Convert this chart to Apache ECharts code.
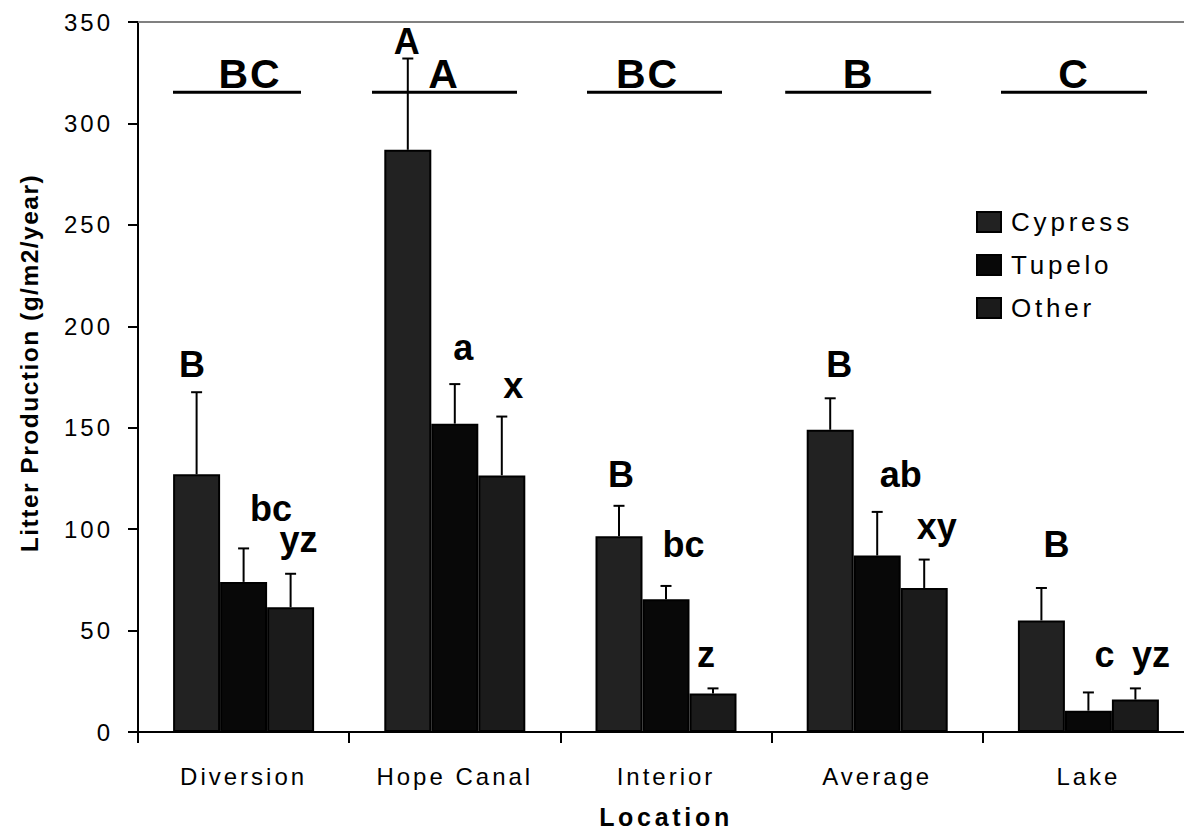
<!DOCTYPE html>
<html>
<head>
<meta charset="utf-8">
<script src="https://cdn.jsdelivr.net/npm/echarts@6/dist/echarts.min.js"></script>
<style>
  html, body { margin: 0; padding: 0; background: #fff; }
  #chart { width: 1184px; height: 831px; }
  /* wide tracking used by the axis, legend and title text */
  #chart text[style*="24px"] { letter-spacing: 3px; }
  #chart text[style*="26px"] { letter-spacing: 3.8px; }
  #chart text[style*="25px"] { letter-spacing: 3.7px; }
  #chart text[style*="24.5px"] { letter-spacing: 1.5px; }
  #chart text[style*="41px"] { letter-spacing: 2px; }
</style>
</head>
<body>
<div id="chart"></div>
<script>
// ---- data -------------------------------------------------------------
const categories = ['Diversion', 'Hope Canal', 'Interior', 'Average', 'Lake'];
const speciesNames = ['Cypress', 'Tupelo', 'Other'];

const cypress = [127, 287, 96.5, 149, 55];
const tupelo  = [74, 152, 65.5, 87, 10.5];
const other   = [61.5, 126.5, 19, 71, 16];

// standard errors (upper whisker length)
const cypressSE = [40.5, 45, 15, 15.5, 16];
const tupeloSE  = [16.5, 19.5, 6.5, 21.5, 9];
const otherSE   = [16.5, 29, 2.5, 14, 5.5];

// significance letters
const cypressLetters  = ['B', 'A', 'B', 'B', 'B'];
const tupeloLetters   = ['bc', 'a', 'bc', 'ab', 'c'];
const otherLetters    = ['yz', 'x', 'z', 'xy', 'yz'];
const locationLetters = ['BC', 'A', 'BC', 'B', 'C'];

const yMin = 0, yMax = 350, yStep = 50;
const locationLevel = 315.4;   // value at which the location brackets sit

// ---- layout -----------------------------------------------------------
const BAR_W = 47;
const FONT = '"Liberation Sans", Arial, sans-serif';
const colors = ['#222222', '#080808', '#1b1b1b'];
// letter nudges [dx, baseline offset] relative to the whisker top
const cypressLabelPos = [[-4.5, -15], [-1, -4], [2, -19], [9, -21], [15, -31]];
const tupeloLabelPos  = [[27.5, -27], [8.5, -24], [17.5, -29], [23.5, -25], [16, -25]];
const otherLabelPos   = [[8, -22], [11.5, -18], [-7, -21], [12.5, -20], [15.5, -21]];
// bracket [left, right, text centre] relative to category centre
const bracketPos = [[-70.6, 57.4, 6.4], [-82.8, 62.2, -10.8], [-79, 56, -18.5], [-92, 54, -18.7], [-87.4, 58.6, -14.4]];

const chart = echarts.init(document.getElementById('chart'), null, { renderer: 'svg' });

function barSeries(si, values) {
  return {
    name: speciesNames[si],
    type: 'bar',
    data: values,
    barWidth: BAR_W,
    barGap: '0%',
    itemStyle: { color: colors[si], borderColor: '#000', borderWidth: 2 },
    z: 2
  };
}

function whiskerSeries(si, values, se, letters, pos) {
  const LFS = 36;
  return {
    name: speciesNames[si] + ' SE',
    type: 'custom',
    data: values.map((v, i) => [i, v, v + se[i]]),
    encode: { x: 0, y: [1, 2] },
    silent: true,
    z: 5,
    renderItem(params, api) {
      const i = api.value(0);
      const base = api.coord([i, api.value(1)]);
      const top = api.coord([i, api.value(2)]);
      const x = base[0] + (si - 1) * BAR_W;
      const p = pos[i];
      return {
        type: 'group',
        children: [
          { type: 'line', shape: { x1: x, y1: base[1], x2: x, y2: top[1] }, style: { stroke: '#000', lineWidth: 2 } },
          { type: 'line', shape: { x1: x - 5.5, y1: top[1], x2: x + 5.5, y2: top[1] }, style: { stroke: '#000', lineWidth: 2 } },
          {
            type: 'text', x: x + p[0], y: top[1] + p[1] - 0.35 * LFS,
            style: { text: letters[i], font: 'bold ' + LFS + 'px ' + FONT, fill: '#000', align: 'center', verticalAlign: 'middle' }
          }
        ]
      };
    }
  };
}

const bracketSeries = {
  name: 'Location groups',
  type: 'custom',
  data: categories.map((c, i) => [i, locationLevel]),
  encode: { x: 0, y: 1 },
  silent: true,
  z: 6,
  renderItem(params, api) {
    const i = api.value(0);
    const c = api.coord([i, api.value(1)]);
    const b = bracketPos[i];
    const FS = 41;
    return {
      type: 'group',
      children: [
        { type: 'line', shape: { x1: c[0] + b[0], y1: c[1], x2: c[0] + b[1], y2: c[1] }, style: { stroke: '#000', lineWidth: 3 } },
        {
          type: 'text', x: c[0] + b[2], y: c[1] - 3.5 - 0.35 * FS,
          style: { text: locationLetters[i], font: 'bold ' + FS + 'px ' + FONT, fill: '#000', align: 'center', verticalAlign: 'middle' }
        }
      ]
    };
  }
};

const option = {
  animation: false,
  backgroundColor: '#fff',
  textStyle: { fontFamily: FONT, color: '#000' },
  grid: { left: 138, top: 22, width: 1056, height: 710, containLabel: false, outerBoundsMode: 'none' },
  legend: {
    data: speciesNames,
    orient: 'vertical',
    left: 971,
    top: 204,
    itemWidth: 24,
    itemHeight: 20,
    itemGap: 17,
    icon: 'rect',
    itemStyle: { borderColor: '#000', borderWidth: 2 },
    textStyle: { fontSize: 26, color: '#000', fontFamily: FONT, padding: [0, 0, 0, 5] },
    selectedMode: false
  },
  xAxis: [
    {
      type: 'category',
      data: categories,
      name: 'Location',
      nameLocation: 'middle',
      nameGap: 72,
      nameTextStyle: { fontSize: 25, fontWeight: 'bold', color: '#000', fontFamily: FONT },
      axisLine: { show: true, lineStyle: { color: '#000', width: 2 } },
      axisTick: { show: true, length: 11, lineStyle: { color: '#000', width: 2 } },
      axisLabel: { fontSize: 24, color: '#000', margin: 32, fontFamily: FONT }
    },
    {
      type: 'category',
      data: categories,
      position: 'top',
      axisLine: { show: true, lineStyle: { color: '#808080', width: 2 } },
      axisTick: { show: false },
      axisLabel: { show: false }
    }
  ],
  yAxis: {
    type: 'value',
    min: yMin,
    max: yMax,
    interval: yStep,
    axisLine: { show: true, lineStyle: { color: '#000', width: 2 } },
    axisTick: { show: true, length: 10, lineStyle: { color: '#000', width: 2 } },
    axisLabel: { fontSize: 24, color: '#000', margin: 25, fontFamily: FONT, padding: [7, 0, 0, 0] },
    splitLine: { show: false }
  },
  graphic: [
    {
      type: 'text',
      x: 29,
      y: 363,
      rotation: Math.PI / 2,
      style: {
        text: 'Litter Production (g/m2/year)',
        font: 'bold 24.5px ' + FONT,
        fill: '#000',
        align: 'center',
        verticalAlign: 'middle'
      }
    }
  ],
  series: [
    barSeries(0, cypress),
    barSeries(1, tupelo),
    barSeries(2, other),
    whiskerSeries(0, cypress, cypressSE, cypressLetters, cypressLabelPos),
    whiskerSeries(1, tupelo, tupeloSE, tupeloLetters, tupeloLabelPos),
    whiskerSeries(2, other, otherSE, otherLetters, otherLabelPos),
    bracketSeries
  ]
};

chart.setOption(option);
</script>
</body>
</html>
